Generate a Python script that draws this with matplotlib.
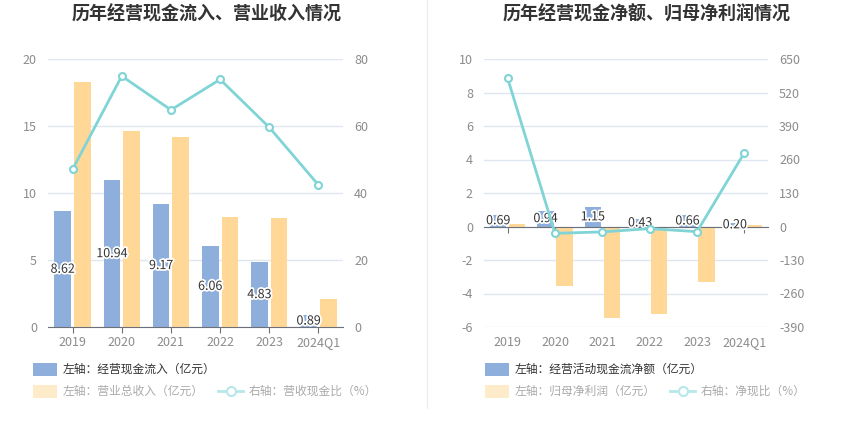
import matplotlib
matplotlib.use("Agg")
import matplotlib.pyplot as plt
import matplotlib.patheffects as pe
from matplotlib.patches import Rectangle
from matplotlib.lines import Line2D
import numpy as np

plt.rcParams['font.family'] = ['Noto Sans CJK SC', 'DejaVu Sans']
plt.rcParams['axes.unicode_minus'] = False

categories = ["2019", "2020", "2021", "2022", "2023", "2024Q1"]

# Left chart
cash_inflow = [8.62, 10.94, 9.17, 6.06, 4.83, 0.89]
revenue = [18.3, 14.6, 14.15, 8.2, 8.1, 2.1]
cash_ratio = [47.1, 74.9, 64.8, 73.9, 59.6, 42.4]

# Right chart
net_cash = [0.69, 0.94, 1.15, 0.43, 0.66, 0.20]
net_profit = [0.12, -3.55, -5.45, -5.2, -3.3, 0.07]
net_ratio = [575, -26.5, -21, -8.3, -20, 286]

left_title = "历年经营现金流入、营业收入情况"
right_title = "历年经营现金净额、归母净利润情况"
left_legend = ["左轴：经营现金流入（亿元）", "左轴：营业总收入（亿元）", "右轴：营收现金比（%）"]
right_legend = ["左轴：经营活动现金流净额（亿元）", "左轴：归母净利润（亿元）", "右轴：净现比（%）"]

BLUE = "#8eaedb"
YELLOW = "#ffd898"
CYAN = "#80d4d6"
GRID = "#e0e6f1"
TICK = "#8c8c8c"
AXIS = "#6e7079"

W, H = 850, 437
fig = plt.figure(figsize=(W / 100, H / 100), dpi=100)
fig.patch.set_facecolor("white")


def px_axes(x0, y0, x1, y1):
    return fig.add_axes([x0 / W, 1 - y1 / H, (x1 - x0) / W, (y1 - y0) / H])


def setup(ax, ax2, ylim, yticks, y2lim, y2ticks):
    ax.set_xlim(-0.5, len(categories) - 0.5)
    ax.set_ylim(*ylim)
    ax.set_yticks(yticks)
    ax2.set_ylim(*y2lim)
    ax2.set_yticks(y2ticks)
    for a in (ax, ax2):
        for s in a.spines.values():
            s.set_visible(False)
        a.tick_params(axis='y', length=0, labelsize=9, labelcolor=TICK, pad=8)
    ax.grid(axis='y', color=GRID, lw=1)
    ax.set_axisbelow(True)
    ax.set_xticks(range(len(categories)))
    ax.set_xticklabels([])
    ax.tick_params(axis='x', length=4, color=AXIS, direction='out')
    ax.spines['bottom'].set_visible(True)
    ax.spines['bottom'].set_color(AXIS)
    ax.spines['bottom'].set_position(('data', 0))
    for i, c in enumerate(categories):
        ax.text(i, -0.035, c, transform=ax.get_xaxis_transform(), ha='center', va='top',
                fontsize=9, color=TICK)


x = np.arange(len(categories))
bw = 0.34
off = 0.2
label_fx = [pe.withStroke(linewidth=2.5, foreground="white")]

# ---------- Left chart ----------
ax = px_axes(48, 59, 343, 327)
ax2 = ax.twinx()
setup(ax, ax2, (0, 20), [0, 5, 10, 15, 20], (0, 80), [0, 20, 40, 60, 80])
b1 = ax.bar(x - off, cash_inflow, bw, color=BLUE, zorder=2)
ax.bar(x + off, revenue, bw, color=YELLOW, zorder=2)
for t in ax.bar_label(b1, labels=[f"{v:.2f}" for v in cash_inflow], label_type='center',
                      fontsize=9, color="#333333"):
    t.set_path_effects(label_fx)
    t.set_zorder(5)
ax2.plot(x, cash_ratio, color=CYAN, lw=2, marker='o', ms=5, mfc='white', mec=CYAN, mew=1.5, zorder=3)

# ---------- Right chart ----------
axr = px_axes(484, 59, 768, 327)
axr2 = axr.twinx()
setup(axr, axr2, (-6, 10), list(range(-6, 11, 2)), (-390, 650), list(range(-390, 651, 130)))
b2 = axr.bar(x - off, net_cash, bw, color=BLUE, zorder=2)
axr.bar(x + off, net_profit, bw, color=YELLOW, zorder=2)
for t in axr.bar_label(b2, labels=[f"{v:.2f}" for v in net_cash], label_type='center',
                       fontsize=9, color="#333333"):
    t.set_path_effects(label_fx)
    t.set_zorder(5)
axr2.plot(x, net_ratio, color=CYAN, lw=2, marker='o', ms=5, mfc='white', mec=CYAN, mew=1.5, zorder=3)

# ---------- Titles ----------
fig.text(207 / W, 1 - 14 / H, left_title, ha='center', va='center', fontsize=13,
         fontweight='bold', color="#333333")
fig.text(647 / W, 1 - 14 / H, right_title, ha='center', va='center', fontsize=13,
         fontweight='bold', color="#333333")

# divider
fig.add_artist(Line2D([427 / W, 427 / W], [1 - 408 / H, 1.0], color="#eeeeee", lw=1))


# ---------- Legends ----------
def swatch(x0, yc, color):
    fig.add_artist(Rectangle((x0 / W, 1 - (yc + 6.5) / H), 24 / W, 13 / H,
                             facecolor=color, edgecolor='none', transform=fig.transFigure))


def linekey(x0, yc, color):
    fig.add_artist(Line2D([x0 / W, (x0 + 25) / W], [1 - yc / H] * 2, color=color, lw=2))
    fig.add_artist(Line2D([(x0 + 12.5) / W], [1 - yc / H], marker='o', ms=6.5, mfc='white',
                          mec=color, mew=1.5, lw=0))


def legend(x0, labels, x_line):
    swatch(x0, 369, BLUE)
    fig.text((x0 + 30) / W, 1 - 369 / H, labels[0], ha='left', va='center', fontsize=8.5, color="#333333")
    swatch(x0, 391, "#fdebc9")
    fig.text((x0 + 30) / W, 1 - 391 / H, labels[1], ha='left', va='center', fontsize=8.5, color="#aaaaaa")
    linekey(x_line, 391, "#b6e8e9")
    fig.text((x_line + 31) / W, 1 - 391 / H, labels[2], ha='left', va='center', fontsize=8.5, color="#aaaaaa")


legend(33, left_legend, 218)
legend(485, right_legend, 670)

fig.savefig("out.png", dpi=100, facecolor="white")
